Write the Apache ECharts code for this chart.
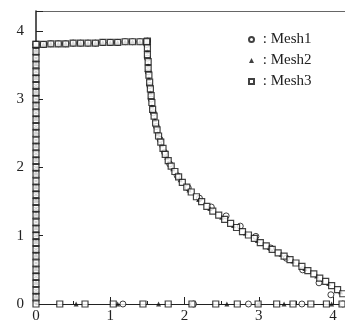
<!DOCTYPE html>
<html>
<head>
<meta charset="utf-8">
<script src="https://cdn.jsdelivr.net/npm/echarts@6/dist/echarts.min.js"></script>
<style>
  html, body { margin: 0; padding: 0; background: #fff; }
  #chart { width: 345px; height: 324px; }
</style>
</head>
<body>
<div id="chart"></div>
<script>
const seriesNames = ["Mesh1", "Mesh2", "Mesh3"];
const xTicks = [0, 1, 2, 3, 4];
const yTicks = [0, 1, 2, 3, 4];

// left wall (x = 0)
const wallY3 = [0, 0.1, 0.2, 0.3, 0.4, 0.5, 0.6, 0.7, 0.8, 0.9, 1.0, 1.1, 1.2, 1.3, 1.4, 1.5, 1.6, 1.7, 1.8, 1.9,
  2.0, 2.1, 2.2, 2.3, 2.4, 2.5, 2.6, 2.7, 2.8, 2.9, 3.0, 3.1, 3.2, 3.3, 3.4, 3.5, 3.6, 3.7, 3.8];
const wallY1 = [0.05, 0.15, 0.25, 0.35, 0.45, 0.55, 0.65, 0.75, 0.85, 0.95, 1.05, 1.15, 1.25, 1.35, 1.45, 1.55, 1.65, 1.75,
  1.85, 1.95, 2.05, 2.15, 2.25, 2.35, 2.45, 2.55, 2.65, 2.75, 2.85, 2.95, 3.05, 3.15, 3.25, 3.35, 3.45, 3.55, 3.65, 3.75];
const wallY2 = [0.12, 0.32, 0.52, 0.72, 0.92, 1.12, 1.32, 1.52, 1.72, 1.92, 2.12, 2.32, 2.52, 2.72, 2.92, 3.12, 3.32, 3.52, 3.72];

// top wall
const topX = [0, 0.1, 0.2, 0.3, 0.4, 0.5, 0.6, 0.7, 0.8, 0.9, 1.0, 1.1, 1.2, 1.3, 1.4, 1.5];
const topY = [3.80, 3.80, 3.81, 3.81, 3.81, 3.82, 3.82, 3.82, 3.82, 3.83, 3.83, 3.83, 3.84, 3.84, 3.84, 3.85];

// free surface
const curve3 = [[1.49, 3.84], [1.50, 3.75], [1.50, 3.65], [1.51, 3.55], [1.51, 3.45], [1.52, 3.35], [1.53, 3.25],
  [1.54, 3.15], [1.55, 3.05], [1.56, 2.95], [1.57, 2.85], [1.59, 2.75], [1.61, 2.65], [1.63, 2.55], [1.65, 2.46],
  [1.68, 2.37], [1.71, 2.28], [1.74, 2.19], [1.78, 2.10], [1.82, 2.02], [1.87, 1.94], [1.92, 1.86], [1.97, 1.78],
  [2.03, 1.71], [2.09, 1.64], [2.16, 1.57], [2.23, 1.50], [2.30, 1.43], [2.38, 1.36], [2.46, 1.30], [2.54, 1.24],
  [2.62, 1.18], [2.70, 1.12], [2.78, 1.06], [2.86, 1.01], [2.94, 0.96], [3.02, 0.90], [3.10, 0.85], [3.18, 0.80],
  [3.26, 0.75], [3.34, 0.70], [3.42, 0.65], [3.50, 0.60], [3.58, 0.55], [3.66, 0.49], [3.74, 0.44], [3.82, 0.38],
  [3.90, 0.33], [3.98, 0.27], [4.06, 0.21], [4.13, 0.15]];
const curve2 = [[1.50, 3.70], [1.51, 3.50], [1.52, 3.30], [1.54, 3.10], [1.56, 2.90], [1.60, 2.70], [1.64, 2.50],
  [1.69, 2.33], [1.76, 2.15], [1.84, 1.98], [1.94, 1.82], [2.06, 1.67], [2.19, 1.53], [2.34, 1.40], [2.50, 1.27],
  [2.66, 1.15], [2.82, 1.04], [2.98, 0.93], [3.14, 0.83], [3.30, 0.73], [3.46, 0.63], [3.62, 0.52], [3.78, 0.41],
  [3.94, 0.30], [4.10, 0.18]];
const curve1 = [[1.49, 3.80], [1.50, 3.60], [1.51, 3.40], [1.53, 3.20], [1.55, 3.00], [1.58, 2.80], [1.62, 2.60],
  [1.67, 2.41], [1.73, 2.22], [1.80, 2.05], [1.90, 1.88], [2.05, 1.70], [2.20, 1.55], [2.36, 1.42], [2.56, 1.29],
  [2.75, 1.14], [2.96, 0.99], [3.16, 0.82], [3.37, 0.67], [3.59, 0.50], [3.81, 0.31], [3.97, 0.135]];

// bottom wall (y = 0)
const bottom3 = [0.32, 0.66, 1.04, 1.44, 1.78, 2.10, 2.42, 2.71, 2.99, 3.24, 3.46, 3.70, 3.91, 4.12];
const bottom2 = [0.54, 1.10, 1.65, 2.57, 2.99, 3.34, 3.98];
const bottom1 = [1.17, 2.12, 2.86, 3.58, 4.13];

const build = (wallY, curve, bottom) => [
  ...wallY.map(y => [0, y]),
  ...topX.map((x, i) => [x, topY[i]]),
  ...curve,
  ...bottom.map(x => [x, 0])
];

const mesh1 = build(wallY1, curve1, bottom1);
const mesh2 = build(wallY2, curve2, bottom2);
const mesh3 = build(wallY3, curve3, bottom3);

const chart = echarts.init(document.getElementById("chart"));
const font = "Liberation Serif";

const option = {
  animation: false,
  legend: {
    orient: "vertical",
    left: 243,
    top: 27,
    itemWidth: 5,
    itemHeight: 5,
    itemGap: 6,
    formatter: " : {name}",
    textStyle: {fontFamily: font, fontSize: 15, color: "#222"},
    data: seriesNames
  },
  grid: {left: 36, right: 0, top: 11, bottom: 17},
  xAxis: [
    {
      type: "value",
      min: 0,
      max: 4.16,
      interval: 1,
      axisLine: {lineStyle: {color: "#222", width: 1.2}},
      axisTick: {inside: true, length: 7, lineStyle: {color: "#222"}},
      minorTick: {show: true, splitNumber: 2, length: 3, lineStyle: {color: "#222"}},
      axisLabel: {showMaxLabel: false, margin: 5, fontFamily: font, fontSize: 15, color: "#222"},
      splitLine: {show: false}
    },
    {
      type: "value",
      position: "top",
      min: 0,
      max: 4.16,
      axisLine: {show: true, lineStyle: {color: "#666", width: 1}},
      axisTick: {show: false},
      axisLabel: {show: false},
      splitLine: {show: false}
    }
  ],
  yAxis: {
    type: "value",
    min: 0,
    max: 4.29,
    interval: 1,
    axisLine: {show: true, lineStyle: {color: "#222", width: 1.5}},
    axisTick: {show: true, inside: true, length: 7, lineStyle: {color: "#222"}},
    minorTick: {show: true, splitNumber: 2, length: 3, lineStyle: {color: "#222"}},
    axisLabel: {showMaxLabel: false, margin: 12, fontFamily: font, fontSize: 15, color: "#222"},
    splitLine: {show: false}
  },
  series: [
    {
      name: seriesNames[0],
      type: "scatter",
      symbol: "circle",
      symbolSize: 6,
      itemStyle: {color: "#fff", borderColor: "#111", borderWidth: 1},
      data: mesh1
    },
    {
      name: seriesNames[1],
      type: "scatter",
      symbol: "triangle",
      symbolSize: 5,
      itemStyle: {color: "#111"},
      data: mesh2
    },
    {
      name: seriesNames[2],
      type: "scatter",
      symbol: "rect",
      symbolSize: 6,
      itemStyle: {color: "#fff", borderColor: "#111", borderWidth: 1.2},
      data: mesh3
    }
  ]
};

chart.setOption(option);
</script>
</body>
</html>
